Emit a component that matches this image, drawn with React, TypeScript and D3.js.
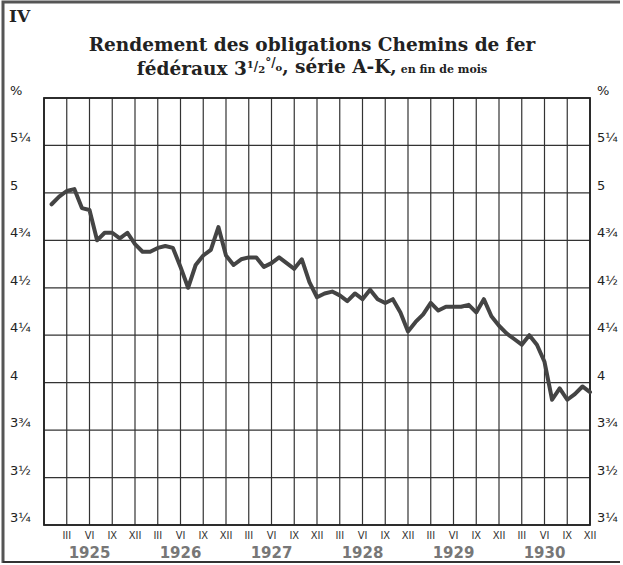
import React, { useRef, useEffect } from 'react';
import * as d3 from 'd3';

// Month-end yield, Jan 1925 .. Dec 1930 (in %)
const yields: number[] = [
  4.94, 4.98, 5.01, 5.02, 4.92, 4.91, 4.75, 4.79, 4.79, 4.76, 4.79, 4.73,
  4.69, 4.69, 4.71, 4.72, 4.71, 4.61, 4.50, 4.62, 4.67, 4.70, 4.82, 4.67,
  4.62, 4.65, 4.66, 4.66, 4.61, 4.63, 4.66, 4.63, 4.60, 4.65, 4.53, 4.45,
  4.47, 4.48, 4.46, 4.43, 4.47, 4.44, 4.49, 4.44, 4.42, 4.44, 4.37, 4.27,
  4.32, 4.36, 4.42, 4.38, 4.40, 4.40, 4.40, 4.41, 4.37, 4.44, 4.35, 4.30,
  4.26, 4.23, 4.20, 4.25, 4.20, 4.11, 3.91, 3.97, 3.91, 3.94, 3.98, 3.95,
];

const years = ['1925', '1926', '1927', '1928', '1929', '1930'];
const quarterLabels = ['III', 'VI', 'IX', 'XII'];
const yTicks = [3.25, 3.5, 3.75, 4, 4.25, 4.5, 4.75, 5, 5.25, 5.5];
const yTickLabels = ['3¼', '3½', '3¾', '4', '4¼', '4½', '4¾', '5', '5¼', '%'];

const App: React.FC = () => {
  const svgRef = useRef<SVGSVGElement>(null);

  useEffect(() => {
    if (!svgRef.current) return;
    const width = 623;
    const height = 565;
    const margin = { top: 98, right: 33, bottom: 40, left: 44 };

    const svg = d3.select(svgRef.current);
    svg.selectAll('*').remove();

    const totalMonths = years.length * 12;
    const x = d3.scaleLinear()
      .domain([0, totalMonths])
      .range([margin.left, width - margin.right]);

    const y = d3.scaleLinear()
      .domain([3.25, 5.5])
      .range([height - margin.bottom, margin.top]);

    // Page border (scan edge)
    svg.append('path')
      .attr('d', `M3,563 L3,2 L620,2`)
      .attr('fill', 'none')
      .attr('stroke', '#555')
      .attr('stroke-width', 3);
    svg.append('line')
      .attr('x1', 3).attr('x2', 620)
      .attr('y1', 562).attr('y2', 562)
      .attr('stroke', '#333')
      .attr('stroke-width', 2);

    // "IV"
    svg.append('text')
      .attr('x', 9).attr('y', 22)
      .attr('font-family', 'DejaVu Serif')
      .attr('font-weight', 'bold')
      .attr('font-size', '17px')
      .attr('fill', '#222')
      .text('IV');

    // Title
    const titleFont = 'DejaVu Serif';
    svg.append('text')
      .attr('x', 312).attr('y', 51)
      .attr('text-anchor', 'middle')
      .attr('font-family', titleFont)
      .attr('font-weight', 'bold')
      .attr('font-size', '18.5px')
      .attr('fill', '#222')
      .text('Rendement des obligations Chemins de fer');

    const t2 = svg.append('text')
      .attr('x', 312).attr('y', 75)
      .attr('text-anchor', 'middle')
      .attr('font-family', titleFont)
      .attr('font-weight', 'bold')
      .attr('font-size', '18.5px')
      .attr('fill', '#222');
    t2.append('tspan').text('fédéraux 3');
    t2.append('tspan').attr('font-size', '10px').attr('dy', -7).text('1');
    t2.append('tspan').attr('font-size', '12px').attr('dy', 3).text('/');
    t2.append('tspan').attr('font-size', '10px').attr('dy', 2).text('2');
    t2.append('tspan').attr('font-size', '12px').attr('dy', -6).text('°/');
    t2.append('tspan').attr('font-size', '10px').attr('dy', 4).text('o');
    t2.append('tspan').attr('dy', 2).text(', série A-K,');
    t2.append('tspan').attr('font-size', '11px').text(' en fin de mois');

    // Horizontal grid
    svg.append('g')
      .selectAll('line')
      .data(yTicks)
      .join('line')
      .attr('x1', margin.left)
      .attr('x2', width - margin.right)
      .attr('y1', d => y(d))
      .attr('y2', d => y(d))
      .attr('stroke', '#333')
      .attr('stroke-width', 1.2);

    // Vertical grid (quarters)
    const quarterTicks = d3.range(0, totalMonths + 1, 3);
    svg.append('g')
      .selectAll('line')
      .data(quarterTicks)
      .join('line')
      .attr('x1', d => x(d))
      .attr('x2', d => x(d))
      .attr('y1', y(5.5))
      .attr('y2', y(3.25))
      .attr('stroke', '#333')
      .attr('stroke-width', 1.2);

    // Frame
    svg.append('rect')
      .attr('x', margin.left)
      .attr('y', margin.top)
      .attr('width', width - margin.left - margin.right)
      .attr('height', height - margin.top - margin.bottom)
      .attr('fill', 'none')
      .attr('stroke', '#222')
      .attr('stroke-width', 1.8);

    // Y labels, left and right
    const labelFont = 'DejaVu Sans';
    yTicks.forEach((v, i) => {
      svg.append('text')
        .attr('x', 10)
        .attr('y', y(v) - 3)
        .attr('font-family', labelFont)
        .attr('font-size', '13px')
        .attr('fill', '#222')
        .text(yTickLabels[i]);
      svg.append('text')
        .attr('x', 597)
        .attr('y', y(v) - 3)
        .attr('font-family', labelFont)
        .attr('font-size', '13px')
        .attr('fill', '#222')
        .text(yTickLabels[i]);
    });

    // Month labels (quarters)
    years.forEach((yr, yi) => {
      quarterLabels.forEach((q, qi) => {
        const m = yi * 12 + (qi + 1) * 3;
        svg.append('text')
          .attr('x', x(m))
          .attr('y', 539)
          .attr('text-anchor', 'middle')
          .attr('font-family', 'DejaVu Sans Condensed')
          .attr('font-size', '11px')
          .attr('fill', '#333')
          .text(q);
      });
      svg.append('text')
        .attr('x', x(yi * 12 + 6))
        .attr('y', 558)
        .attr('text-anchor', 'middle')
        .attr('font-family', labelFont)
        .attr('font-weight', 'bold')
        .attr('font-size', '15px')
        .attr('fill', '#777')
        .text(yr);
    });

    // Yield line
    const line = d3.line<number>()
      .x((_, i) => x(i + 1))
      .y(d => y(d));

    svg.append('path')
      .datum(yields)
      .attr('d', line)
      .attr('fill', 'none')
      .attr('stroke', '#444')
      .attr('stroke-width', 4)
      .attr('stroke-linejoin', 'round')
      .attr('stroke-linecap', 'round');
  }, []);

  return (
    <svg
      ref={svgRef}
      width={623}
      height={565}
      style={{ position: 'absolute', left: 0, top: 0, background: '#fff' }}
    />
  );
};

export default App;
